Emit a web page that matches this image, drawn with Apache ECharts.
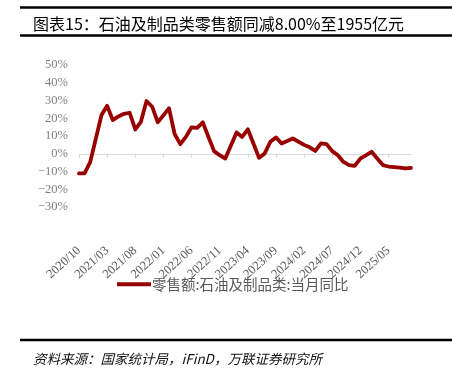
<!DOCTYPE html>
<html>
<head>
<meta charset="utf-8">
<script src="https://cdn.jsdelivr.net/npm/echarts@6/dist/echarts.min.js"></script>
<style>
  html, body { margin: 0; padding: 0; background: #fff; }
  #main { width: 452px; height: 368px; }
</style>
</head>
<body>
<div id="main"></div>
<script>
// months, Jan is folded into Feb (combined Jan-Feb release) so it stays empty
var months = [
  '2020/10', '2020/11', '2020/12',
  '2021/01', '2021/02', '2021/03', '2021/04', '2021/05', '2021/06', '2021/07', '2021/08', '2021/09', '2021/10', '2021/11', '2021/12',
  '2022/01', '2022/02', '2022/03', '2022/04', '2022/05', '2022/06', '2022/07', '2022/08', '2022/09', '2022/10', '2022/11', '2022/12',
  '2023/01', '2023/02', '2023/03', '2023/04', '2023/05', '2023/06', '2023/07', '2023/08', '2023/09', '2023/10', '2023/11', '2023/12',
  '2024/01', '2024/02', '2024/03', '2024/04', '2024/05', '2024/06', '2024/07', '2024/08', '2024/09', '2024/10', '2024/11', '2024/12',
  '2025/01', '2025/02', '2025/03', '2025/04', '2025/05', '2025/06', '2025/07', '2025/08', '2025/09'
];
var oilYoy = [
  -11.1, -11.0, -4.6,
  null, 21.8, 27.0, 19.0, 21.0, 22.5, 23.1, 13.7, 18.0, 29.7, 26.5, 17.7,
  null, 25.6, 11.1, 5.4, 9.5, 14.9, 14.6, 17.7, 9.5, 1.5, -0.8, -2.7,
  null, 12.0, 9.5, 13.8, 5.8, -2.3, 0.2, 6.7, 9.2, 5.8, 7.2, 8.6,
  null, 5.0, 3.6, 1.6, 5.8, 5.4, 1.5, -0.8, -4.6, -6.4, -6.8, -2.7,
  null, 1.1, -2.7, -6.4, -7.2, -7.5, -7.8, -8.3, -8.0
];
var yTicks = { min: -30, max: 50, step: 10 };
var seriesName = '零售额:石油及制品类:当月同比';
var titleText = '图表15：石油及制品类零售额同减8.00%至1955亿元';
var sourceText = '资料来源：国家统计局，iFinD，万联证券研究所';

var myChart = echarts.init(document.getElementById('main'));
var option = {
  backgroundColor: '#fff',
  animation: false,
  title: [
    {
      text: titleText,
      left: 28, top: 11,
      textStyle: { fontFamily: 'Noto Sans CJK SC', fontSize: 16, fontWeight: 'normal', color: '#000' }
    },
    {
      text: sourceText,
      left: 28, top: 347,
      textStyle: { fontFamily: 'Noto Sans CJK SC', fontSize: 13.5, fontStyle: 'italic', fontWeight: 'normal', color: '#111' }
    }
  ],
  graphic: [
    { type: 'line', shape: { x1: 20, y1: 7.5, x2: 452, y2: 7.5 }, style: { stroke: '#000', lineWidth: 2.5 } },
    { type: 'line', shape: { x1: 20, y1: 35.5, x2: 452, y2: 35.5 }, style: { stroke: '#000', lineWidth: 2.5 } },
    { type: 'line', shape: { x1: 20, y1: 340, x2: 452, y2: 340 }, style: { stroke: '#000', lineWidth: 2.5 } }
  ],
  legend: {
    left: 112, top: 272,
    icon: 'rect', itemWidth: 34, itemHeight: 4, itemGap: 4,
    textStyle: { fontFamily: 'Noto Sans CJK SC', fontSize: 14.5, color: '#595959', padding: [0, 0, 0, -4] },
    data: [seriesName]
  },
  grid: { left: 79, right: 41, top: 65, bottom: 161 },
  xAxis: {
    type: 'category',
    data: months,
    boundaryGap: false,
    axisLine: { onZero: true, lineStyle: { color: '#d9d9d9', width: 1 } },
    axisTick: { show: true, interval: 4, length: 4, lineStyle: { color: '#d9d9d9' } },
    axisLabel: {
      interval: 4, rotate: 42, margin: 42,
      fontFamily: 'Liberation Serif', fontSize: 12.5, color: '#595959'
    },
    splitLine: { show: false }
  },
  yAxis: {
    type: 'value',
    min: yTicks.min, max: yTicks.max, interval: yTicks.step,
    axisLine: { show: false },
    axisTick: { show: false },
    splitLine: { show: false },
    axisLabel: {
      margin: 11,
      fontFamily: 'Liberation Serif', fontSize: 12.5, color: '#7f7f7f',
      formatter: function (v) { return (v < 0 ? '\u2212' + Math.abs(v) : v) + '%'; }
    }
  },
  series: [
    {
      name: seriesName,
      type: 'line',
      data: oilYoy,
      connectNulls: true,
      showSymbol: false,
      symbol: 'none',
      itemStyle: { color: '#990000' },
      lineStyle: { color: '#990000', width: 3.8, join: 'round', cap: 'round' }
    }
  ]
};
option && myChart.setOption(option);
</script>
</body>
</html>
